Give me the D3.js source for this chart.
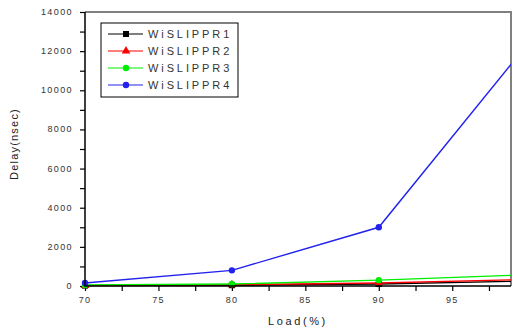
<!DOCTYPE html>
<html lang="en">
	<head>
		<meta charset="utf-8">
		<title>Delay vs Load</title>
		<script src="https://d3js.org/d3.v7.min.js"></script>
		<style>
			body { margin: 0; background: #fff; }
			text { font-family: "Liberation Sans", Arial, sans-serif; }
		</style>
	</head>
	<body>
		<script type="text/javascript">

			//data
			var loads = [70, 80, 90, 100];
			var seriesNames = ["WiSLIPPR1", "WiSLIPPR2", "WiSLIPPR3", "WiSLIPPR4"];
			var r1 = [20, 40, 100, 250];
			var r2 = [30, 60, 150, 330];
			var r3 = [50, 100, 300, 570];
			var r4 = [150, 800, 3000, 12250];
			var xTicks = [70, 75, 80, 85, 90, 95];
			var yTicks = [0, 2000, 4000, 6000, 8000, 10000, 12000, 14000];

			var colors = ["#000000", "#ff0000", "#00ee00", "#2222ee"];
			var shapes = ["square", "triangle", "circle", "circle"];
			var allSeries = [r1, r2, r3, r4];

			//canvas
			var width = 520,
				height = 330,
				pLeft = 85,
				pRight = 511,
				pTop = 12,
				pBottom = 286;

			var svg = d3.select("body").append("svg")
				.attr("width", width)
				.attr("height", height);

			var x = d3.scaleLinear().domain([70, 99]).range([pLeft, pRight]);
			var y = d3.scaleLinear().domain([0, 14000]).range([pBottom, pTop]);

			svg.append("defs").append("clipPath").attr("id", "plotclip")
				.append("rect")
				.attr("x", pLeft - 6).attr("y", pTop)
				.attr("width", pRight - pLeft + 6).attr("height", pBottom - pTop + 6);

			//frame top/right in gray
			svg.append("path")
				.attr("d", "M" + pLeft + "," + pTop + "H" + pRight + "V" + pBottom)
				.attr("fill", "none")
				.attr("stroke", "#808080")
				.attr("stroke-width", 2);

			//x axis
			var xAxis = svg.append("g")
				.attr("transform", "translate(0," + pBottom + ")")
				.call(d3.axisBottom(x).tickValues(d3.range(70, 99.1, 2.5)).tickSize(5).tickFormat(""));
			xAxis.select(".domain").remove();
			xAxis.selectAll("line").attr("stroke", "#000").attr("stroke-width", 1.2);

			svg.append("g").selectAll("text")
				.data(xTicks).enter().append("text")
				.attr("x", function(d){ return x(d); })
				.attr("y", 303)
				.attr("text-anchor", "middle")
				.attr("font-size", 9)
				.attr("letter-spacing", 1.2)
				.attr("fill", "#333")
				.text(function(d){ return d; });

			//y axis
			var yAxis = svg.append("g")
				.attr("transform", "translate(" + pLeft + ",0)")
				.call(d3.axisLeft(y).tickValues(d3.range(0, 14001, 1000)).tickSize(5).tickFormat(""));
			yAxis.select(".domain").remove();
			yAxis.selectAll("line").attr("stroke", "#000").attr("stroke-width", 1.2);

			svg.append("g").selectAll("text")
				.data(yTicks).enter().append("text")
				.attr("x", 73)
				.attr("y", function(d){ return y(d) + 3; })
				.attr("text-anchor", "end")
				.attr("font-size", 9)
				.attr("letter-spacing", 1.4)
				.attr("fill", "#333")
				.text(function(d){ return d; });

			//series
			var line = d3.line()
				.x(function(d, i){ return x(loads[i]); })
				.y(function(d){ return y(d); });

			var plot = svg.append("g").attr("clip-path", "url(#plotclip)");

			function marker(g, shape, cx, cy, color){
				if (shape == "square"){
					g.append("rect").attr("x", cx - 3).attr("y", cy - 3)
						.attr("width", 6).attr("height", 6).attr("fill", color);
				} else if (shape == "triangle"){
					g.append("path").attr("d", d3.symbol().type(d3.symbolTriangle).size(32)())
						.attr("transform", "translate(" + cx + "," + cy + ")")
						.attr("fill", color);
				} else {
					g.append("circle").attr("cx", cx).attr("cy", cy).attr("r", 3.2).attr("fill", color);
				}
			}

			for (var i = 0; i < allSeries.length; i++){
				plot.append("path")
					.datum(allSeries[i])
					.attr("d", line)
					.attr("fill", "none")
					.attr("stroke", colors[i])
					.attr("stroke-width", 1.4);
			}
			for (i = 0; i < allSeries.length; i++){
				allSeries[i].forEach(function(v, j){
					if (loads[j] <= 99) marker(plot, shapes[i], x(loads[j]), y(v), colors[i]);
				});
			}

			//left and bottom axis lines
			svg.append("path")
				.attr("d", "M" + pLeft + "," + pTop + "V" + pBottom + "H" + pRight)
				.attr("fill", "none")
				.attr("stroke", "#000")
				.attr("stroke-width", 1.5);

			//legend
			var legend = svg.append("g");
			legend.append("rect")
				.attr("x", 101).attr("y", 23)
				.attr("width", 137).attr("height", 74)
				.attr("fill", "#fff")
				.attr("stroke", "#000")
				.attr("stroke-width", 1);

			seriesNames.forEach(function(name, k){
				var ly = 34 + k * 17;
				legend.append("line")
					.attr("x1", 108).attr("x2", 143)
					.attr("y1", ly).attr("y2", ly)
					.attr("stroke", colors[k]).attr("stroke-width", 1.2);
				marker(legend, shapes[k], 126, ly, colors[k]);
				legend.append("text")
					.attr("x", 148).attr("y", ly + 4)
					.attr("font-size", 11)
					.attr("letter-spacing", 2.9)
					.attr("fill", "#333")
					.text(name);
			});

			//axis titles
			svg.append("text")
				.attr("x", 298).attr("y", 325)
				.attr("text-anchor", "middle")
				.attr("font-size", 11)
				.attr("letter-spacing", 2.6)
				.attr("fill", "#222")
				.text("Load(%)");

			svg.append("text")
				.attr("transform", "translate(18,144) rotate(-90)")
				.attr("text-anchor", "middle")
				.attr("font-size", 11)
				.attr("letter-spacing", 1.2)
				.attr("fill", "#222")
				.text("Delay(nsec)");

		</script>
	</body>
</html>
